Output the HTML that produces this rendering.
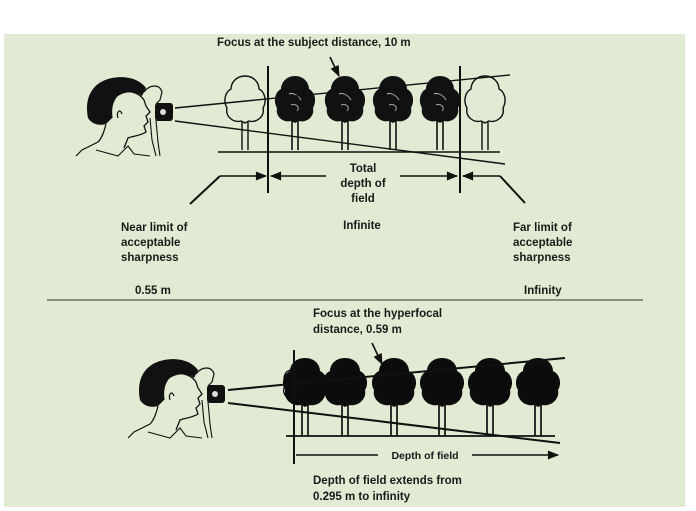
<!DOCTYPE html>
<html><head><style>
html,body{margin:0;padding:0;background:#fff;}
svg{display:block;}
text{font-family:"Liberation Sans",Arial,sans-serif;font-weight:bold;fill:#1a1a1a;font-size:11.5px;}
</style></head><body>
<svg width="696" height="511" viewBox="0 0 696 511" xmlns="http://www.w3.org/2000/svg">
<defs>
<g id="head">
  <path d="M88,118 C84,98 92,82 112,78 C128,75 140,80 146,88 L142,96 C134,90 124,92 118,96 C112,100 110,108 112,118 L106,124 C98,126 92,124 88,118 Z" fill="#111"/>
  <path d="M112,118 C110,106 114,96 122,92 C132,90 140,94 144,100 L146,106 L150,112 L146,116 L148,122 L144,126 L146,132 C140,136 132,136 128,138 L124,148" fill="none" stroke="#111" stroke-width="1.3"/>
  <path d="M106,124 C104,132 102,138 98,142 L82,150 L76,156" fill="none" stroke="#111" stroke-width="1.2"/>
  <path d="M96,150 L118,156 L128,146 L134,154 L150,156" fill="none" stroke="#111" stroke-width="1.1"/>
  <path d="M118,118 C116,112 120,108 122,114" fill="none" stroke="#111" stroke-width="1.2"/>
  <path d="M144,92 C150,84 160,84 162,92 L160,100 L156,104" fill="none" stroke="#111" stroke-width="1.2"/>
  <path d="M150,118 L152,140 L156,156 M156,120 L158,142 L160,156" fill="none" stroke="#111" stroke-width="1.1"/>
  <rect x="155" y="103" width="18" height="18" rx="3" fill="#111"/>
  <circle cx="163" cy="112" r="3" fill="#ddd"/>
</g>
<g id="dtree">
  <path d="M0,-38 C9,-38 14,-31 14,-25 C20,-22 22,-13 18,-6 C20,3 11,9 4,7 L0,9 L-4,7 C-11,9 -20,3 -18,-6 C-22,-13 -20,-22 -14,-25 C-14,-31 -9,-38 0,-38 Z" fill="#111"/>
  <path d="M-3,4 L-3,36 M3,4 L3,36" stroke="#111" stroke-width="1.6"/>
  <path d="M-6,-20 C-2,-22 4,-18 6,-14 M-4,-9 C0,-11 6,-7 2,-3" stroke="#aaa" stroke-width="1" fill="none"/>
</g>
<g id="otree">
  <path d="M0,-38 C9,-38 14,-31 14,-25 C20,-22 22,-13 18,-6 C20,3 11,9 4,7 L0,9 L-4,7 C-11,9 -20,3 -18,-6 C-22,-13 -20,-22 -14,-25 C-14,-31 -9,-38 0,-38 Z" fill="none" stroke="#111" stroke-width="1.4"/>
  <path d="M-3,7 L-3,36 M3,7 L3,36" stroke="#111" stroke-width="1.4"/>
</g>
<g id="btree">
  <path d="M0,-38 C10,-38 15,-31 15,-25 C22,-22 24,-12 20,-6 C22,3 13,11 4,9 L0,11 L-4,9 C-13,11 -22,3 -20,-6 C-24,-12 -22,-22 -15,-25 C-15,-31 -10,-38 0,-38 Z" fill="#0c0c0c"/>
  <path d="M-3,6 L-3,40 M3,6 L3,40" stroke="#111" stroke-width="1.7"/>
</g>
<marker id="ar" viewBox="0 0 10 10" refX="9" refY="5" markerWidth="9" markerHeight="7" orient="auto-start-reverse"><path d="M0,1 L10,5 L0,9 Z" fill="#111"/></marker>
</defs>

<rect x="4" y="34" width="681" height="473" fill="#e1ead2"/>

<text x="217" y="46">Focus at the subject distance, 10 m</text>
<line x1="330" y1="57" x2="339" y2="76" stroke="#111" stroke-width="1.6" marker-end="url(#ar)"/>
<use href="#head"/>
<use href="#otree" x="245" y="114"/>
<use href="#dtree" x="295" y="114"/>
<use href="#dtree" x="345" y="114"/>
<use href="#dtree" x="393" y="114"/>
<use href="#dtree" x="440" y="114"/>
<use href="#otree" x="485" y="114"/>
<line x1="175" y1="108" x2="510" y2="75" stroke="#111" stroke-width="1.4"/>
<line x1="175" y1="121" x2="505" y2="164" stroke="#111" stroke-width="1.4"/>
<line x1="218" y1="152" x2="500" y2="152" stroke="#111" stroke-width="1.6"/>
<line x1="268" y1="66" x2="268" y2="193" stroke="#111" stroke-width="2"/>
<line x1="460" y1="66" x2="460" y2="193" stroke="#111" stroke-width="2"/>
<line x1="220" y1="176" x2="266" y2="176" stroke="#111" stroke-width="1.6" marker-end="url(#ar)"/>
<line x1="326" y1="176" x2="271" y2="176" stroke="#111" stroke-width="1.6" marker-end="url(#ar)"/>
<line x1="400" y1="176" x2="457" y2="176" stroke="#111" stroke-width="1.6" marker-end="url(#ar)"/>
<line x1="500" y1="176" x2="463" y2="176" stroke="#111" stroke-width="1.6" marker-end="url(#ar)"/>
<polyline points="220,176 190,204" fill="none" stroke="#111" stroke-width="2"/>
<polyline points="500,176 525,203" fill="none" stroke="#111" stroke-width="2"/>
<text x="363" y="172" text-anchor="middle">Total</text>
<text x="363" y="187" text-anchor="middle">depth of</text>
<text x="363" y="202" text-anchor="middle">field</text>
<text x="362" y="229" text-anchor="middle">Infinite</text>
<text x="121" y="231">Near limit of</text>
<text x="121" y="246">acceptable</text>
<text x="121" y="261">sharpness</text>
<text x="135" y="294">0.55 m</text>
<text x="513" y="231">Far limit of</text>
<text x="513" y="246">acceptable</text>
<text x="513" y="261">sharpness</text>
<text x="524" y="294">Infinity</text>
<line x1="47" y1="300" x2="643" y2="300" stroke="#333" stroke-width="1"/>

<text x="313" y="317">Focus at the hyperfocal</text>
<text x="313" y="333">distance, 0.59 m</text>
<line x1="372" y1="343" x2="382" y2="364" stroke="#111" stroke-width="1.6" marker-end="url(#ar)"/>
<use href="#head" x="52" y="282"/>
<path d="M292,370 C284,370 282,380 286,384 C280,392 286,400 294,398" fill="none" stroke="#111" stroke-width="1.2"/>
<use href="#btree" x="305" y="396"/>
<use href="#btree" x="345" y="396"/>
<use href="#btree" x="394" y="396"/>
<use href="#btree" x="442" y="396"/>
<use href="#btree" x="490" y="396"/>
<use href="#btree" x="538" y="396"/>
<line x1="228" y1="390" x2="565" y2="358" stroke="#111" stroke-width="2"/>
<line x1="228" y1="403" x2="560" y2="443" stroke="#111" stroke-width="2"/>
<line x1="286" y1="436" x2="555" y2="436" stroke="#111" stroke-width="1.8"/>
<line x1="294" y1="350" x2="294" y2="464" stroke="#111" stroke-width="2"/>
<line x1="296" y1="455" x2="378" y2="455" stroke="#111" stroke-width="1.6"/>
<line x1="472" y1="455" x2="558" y2="455" stroke="#111" stroke-width="1.6" marker-end="url(#ar)"/>
<text x="425" y="459" text-anchor="middle" style="font-size:10.5px">Depth of field</text>
<text x="313" y="484">Depth of field extends from</text>
<text x="313" y="500">0.295 m to infinity</text>
</svg>
</body></html>
